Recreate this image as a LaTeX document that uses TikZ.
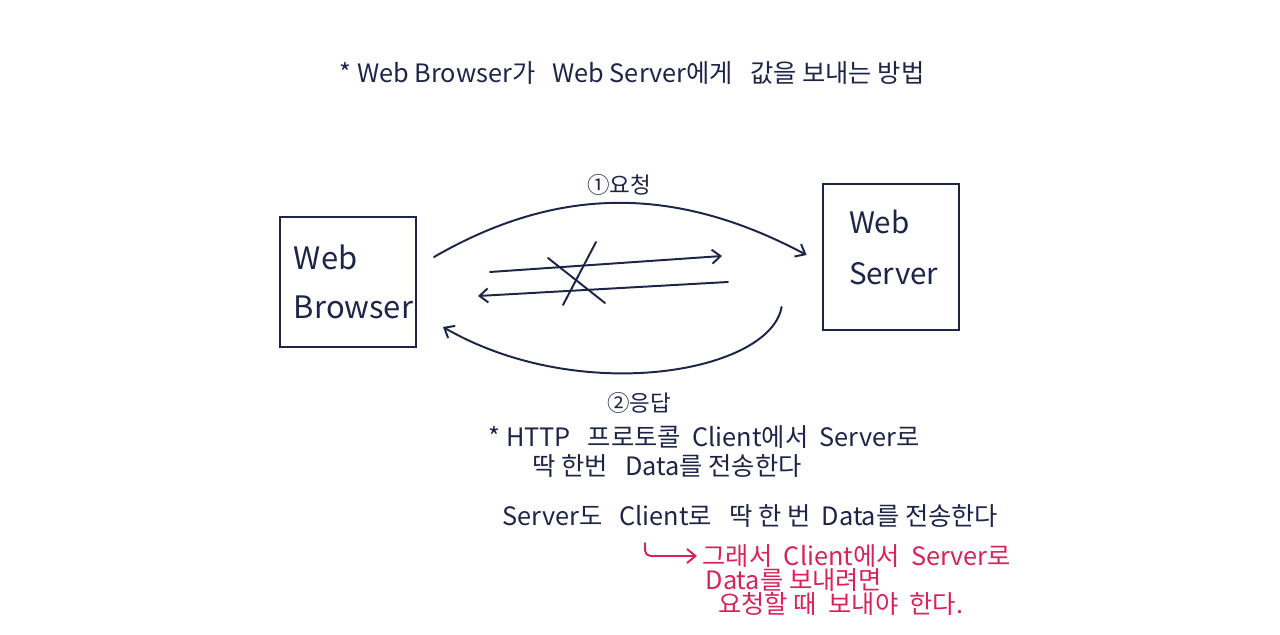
\documentclass[tikz,border=0pt]{standalone}
\usepackage{fontspec}
\setmainfont{Noto Sans CJK KR}
\usetikzlibrary{arrows.meta}
\definecolor{ink}{HTML}{1E2546}
\definecolor{pen}{HTML}{D6245A}

\begin{document}
\begin{tikzpicture}[x=0.025cm, y=-0.025cm, line width=1.4pt, color=ink,
    line cap=round, >={Straight Barb[length=6pt,width=10pt]},
    box/.style={draw, align=left, inner ysep=0pt},
    note/.style={anchor=west, font=\fontsize{18}{21}\selectfont}]

    \useasboundingbox (0,0) rectangle (1280,635);

    % ==========================================
    % 1. Titolo
    % ==========================================
    \node[font=\fontsize{18}{21}\selectfont] (title) at (632,73)
        {* Web Browser가 \ \ Web Server에게 \ \ 값을 보내는 방법};

    % ==========================================
    % 2. Browser e Server
    % ==========================================
    \node[box, text width=2.7cm, inner xsep=0.35cm, minimum height=3.225cm,
        font=\fontsize{22}{35}\selectfont] (browser) at (348,282) {Web\\Browser};
    \node[box, text width=2.1cm, inner xsep=0.66cm, minimum height=3.625cm,
        text depth=50pt, font=\fontsize{21}{36}\selectfont] (server) at (891,257) {Web\\Server};

    % richiesta e risposta
    \draw[->] ([shift={(17,-25)}]browser.east) to[out=30,in=152]
        node[above=1pt, font=\fontsize{16}{18}\selectfont] (req) {①요청}
        ([shift={(-15,-2)}]server.west);
    \draw[->] ([shift={(-40,50)}]server.west)
        to[out=-100,in=-30,out looseness=0.5,in looseness=1.2]
        node[below=10pt, pos=0.55, font=\fontsize{16}{18}\selectfont] (resp) {②응답}
        ([shift={(26,45)}]browser.east);

    % frecce centrali barrate
    \coordinate (goA) at (490,272);
    \coordinate (goB) at (722,256);
    \coordinate (backA) at (728,282);
    \coordinate (backB) at (478,296);
    \draw[->] (goA) -- (goB);
    \draw[->] (backA) -- (backB);
    \coordinate (xa) at (548,258);
    \coordinate (xb) at (605,303);
    \coordinate (xc) at (596,242);
    \coordinate (xd) at (563,305);
    \draw (xa) -- (xb);
    \draw (xc) -- (xd);

    % ==========================================
    % 3. Note
    % ==========================================
    \node[note] (http) at (483,437) {* HTTP \ \ 프로토콜 \ Client에서 \ Server로};
    \node[note] (once) at (527,466) {딱 한번 \ \ Data를 전송한다};
    \node[note] (back) at (497,516) {Server도 \ \ Client로 \ \ 딱 한 번 \ Data를 전송한다};

    % nota rossa
    \node[note, color=pen] (so) at (697,556) {그래서 \ Client에서 \ Server로};
    \node[note, color=pen, align=left, font=\fontsize{18}{17}\selectfont] (must) at (700,592)
        {Data를 보내려면\\\hspace{0.5em}요청할 때 \ 보내야 \ 한다.};
    \coordinate (hook) at (645,543);
    \draw[pen, ->, rounded corners=4pt] (hook) |- (so.west);

\end{tikzpicture}
\end{document}
